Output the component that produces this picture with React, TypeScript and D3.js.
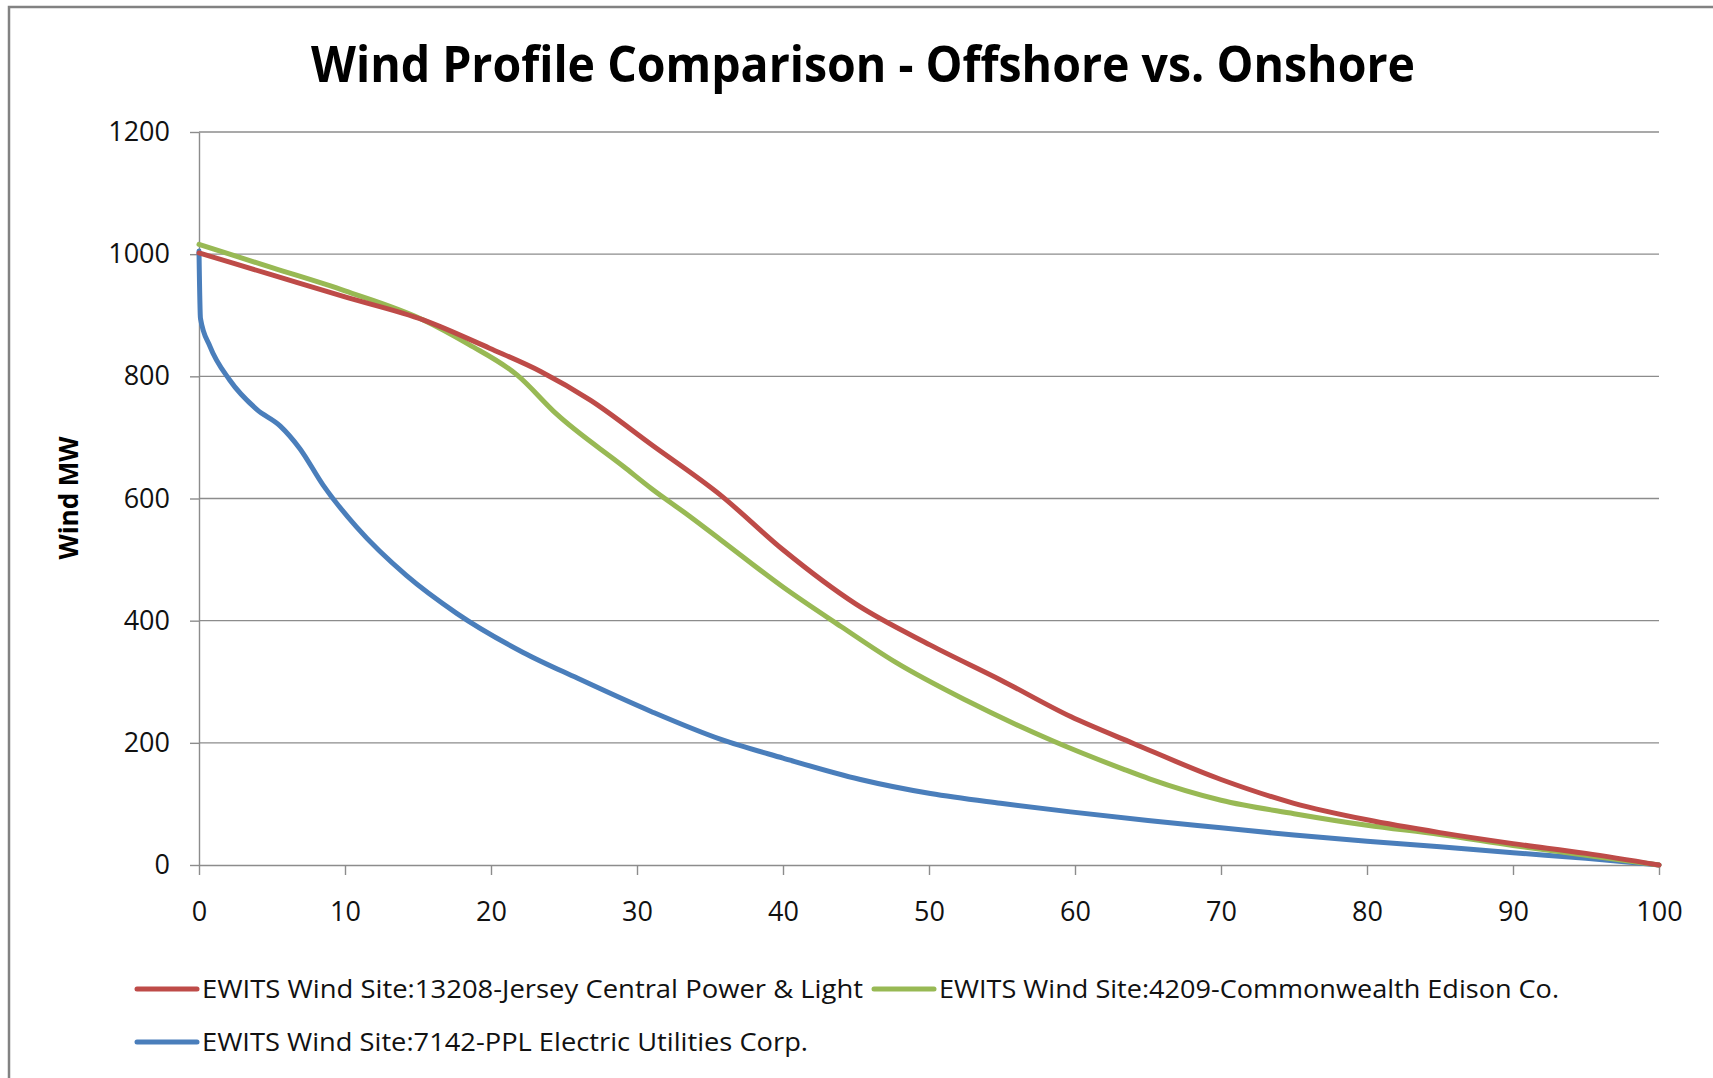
import { useEffect, useRef } from 'react';
import * as d3 from 'd3';

// percent of hours (x) vs wind MW (y)
const jerseyCentral: [number, number][] = [
  [0, 1002], [5, 966], [10, 930], [15.4, 892], [19.9, 846], [23.4, 808],
  [26.8, 761], [31, 688], [35.7, 606], [40, 516], [45, 427], [50.1, 360],
  [54.9, 303], [59.7, 243], [64, 199], [70, 140], [75, 101], [80, 74],
  [85, 53], [90, 35], [95, 19], [100, 0]
];

const commonwealthEdison: [number, number][] = [
  [0, 1016], [5, 978], [10, 940], [15.4, 892], [18.5, 852], [21.8, 802],
  [24.5, 738], [29.1, 652], [31, 616], [33.6, 571], [35.7, 533], [40, 455],
  [44, 390], [47.7, 332], [52.5, 270], [58.5, 203], [63.3, 157], [65.1, 141],
  [70, 106], [75, 84], [80, 65], [85, 50], [90, 32], [95, 16], [100, 0]
];

const pplElectric: [number, number][] = [
  [0, 1005], [0.1, 895], [0.75, 849], [2.1, 794], [3.95, 746], [5.55, 719],
  [6.9, 682], [8.5, 622], [10.8, 553], [14.2, 474], [17.65, 412], [22.2, 348],
  [25.9, 306], [31, 251], [35.7, 206], [40, 175], [45.3, 140], [50.1, 117],
  [54.9, 101], [59.7, 87], [65, 73], [70, 61], [75, 49], [80, 39], [85, 30],
  [90, 20], [95, 11], [100, 0]
];

const seriesNames = [
  'EWITS Wind Site:13208-Jersey Central Power & Light',
  'EWITS Wind Site:4209-Commonwealth Edison Co.',
  'EWITS Wind Site:7142-PPL Electric Utilities Corp.'
];
const seriesColors = ['#BE4B48', '#98B954', '#4A7EBB'];

const xTicks = [0, 10, 20, 30, 40, 50, 60, 70, 80, 90, 100];
const yTicks = [0, 200, 400, 600, 800, 1000, 1200];

const WIDTH = 1713;
const HEIGHT = 1078;
const FONT = "'Open Sans', 'Liberation Sans', sans-serif";

const App = () => {
  const svgRef = useRef<SVGSVGElement>(null);

  useEffect(() => {
    if (!svgRef.current) return;
    const svg = d3.select(svgRef.current);
    svg.selectAll('*').remove();

    svg.append('rect')
      .attr('width', WIDTH).attr('height', HEIGHT).attr('fill', '#fff');

    // chart border (runs off the right and bottom of the picture)
    svg.append('rect')
      .attr('x', 9).attr('y', 7)
      .attr('width', 1900).attr('height', 1300)
      .attr('fill', 'none').attr('stroke', '#828282').attr('stroke-width', 2.5);

    const x = d3.scaleLinear().domain([0, 100]).range([199, 1659]);
    const y = d3.scaleLinear().domain([0, 1200]).range([865, 132]);

    // gridlines
    svg.append('g')
      .selectAll('line')
      .data(yTicks.filter(d => d > 0))
      .enter().append('line')
      .attr('x1', x(0)).attr('x2', x(100))
      .attr('y1', d => y(d)).attr('y2', d => y(d))
      .attr('stroke', '#8c8c8c').attr('stroke-width', 1.4);

    const yAxis = d3.axisLeft(y)
      .tickValues(yTicks)
      .tickFormat(d3.format('d'))
      .tickSize(9)
      .tickSizeOuter(0)
      .tickPadding(20);

    const gy = svg.append('g')
      .attr('transform', `translate(${x(0)},0)`)
      .call(yAxis);
    gy.selectAll('line, path').attr('stroke', '#8c8c8c').attr('stroke-width', 1.4);
    gy.selectAll('text')
      .attr('font-family', FONT).attr('font-size', 27).attr('fill', '#111');

    const xAxis = d3.axisBottom(x)
      .tickValues(xTicks)
      .tickSize(10)
      .tickSizeOuter(0);

    const gx = svg.append('g')
      .attr('transform', `translate(0,${y(0)})`)
      .call(xAxis);
    gx.selectAll('line, path').attr('stroke', '#8c8c8c').attr('stroke-width', 1.4);
    gx.selectAll('text')
      .attr('y', 56).attr('dy', 0)
      .attr('font-family', FONT).attr('font-size', 27).attr('fill', '#111');

    const line = d3.line<[number, number]>()
      .x(d => x(d[0]))
      .y(d => y(d[1]))
      .curve(d3.curveMonotoneX);

    const allSeries = [jerseyCentral, commonwealthEdison, pplElectric];
    // blue first so the red and green sit above it
    [2, 1, 0].forEach(i => {
      svg.append('path')
        .attr('d', line(allSeries[i]))
        .attr('fill', 'none')
        .attr('stroke', seriesColors[i])
        .attr('stroke-width', 5)
        .attr('stroke-linejoin', 'round')
        .attr('stroke-linecap', 'round');
    });

    // title
    svg.append('text')
      .attr('x', 863).attr('y', 82)
      .attr('text-anchor', 'middle')
      .attr('font-family', FONT).attr('font-weight', 700).attr('font-size', 50)
      .attr('textLength', 1104).attr('lengthAdjust', 'spacingAndGlyphs')
      .text('Wind Profile Comparison - Offshore vs. Onshore');

    // y axis title
    svg.append('text')
      .attr('transform', 'translate(78,498) rotate(-90)')
      .attr('text-anchor', 'middle')
      .attr('font-family', FONT).attr('font-weight', 700).attr('font-size', 27)
      .attr('textLength', 123).attr('lengthAdjust', 'spacingAndGlyphs')
      .text('Wind MW');

    // legend
    const legendItems = [
      { x: 137, y: 989, len: 661 },
      { x: 874, y: 989, len: 620 },
      { x: 137, y: 1042, len: 606 }
    ];
    const lg = svg.append('g');
    legendItems.forEach((item, i) => {
      lg.append('line')
        .attr('x1', item.x).attr('x2', item.x + 60)
        .attr('y1', item.y).attr('y2', item.y)
        .attr('stroke', seriesColors[i]).attr('stroke-width', 5)
        .attr('stroke-linecap', 'round');
      lg.append('text')
        .attr('x', item.x + 65).attr('y', item.y + 9)
        .attr('font-family', FONT).attr('font-size', 25).attr('fill', '#111')
        .attr('textLength', item.len).attr('lengthAdjust', 'spacingAndGlyphs')
        .text(seriesNames[i]);
    });
  }, []);

  return (
    <div>
      <svg
        ref={svgRef}
        width={WIDTH}
        height={HEIGHT}
        style={{ position: 'absolute', left: 0, top: 0 }}
      />
    </div>
  );
};

export default App;
